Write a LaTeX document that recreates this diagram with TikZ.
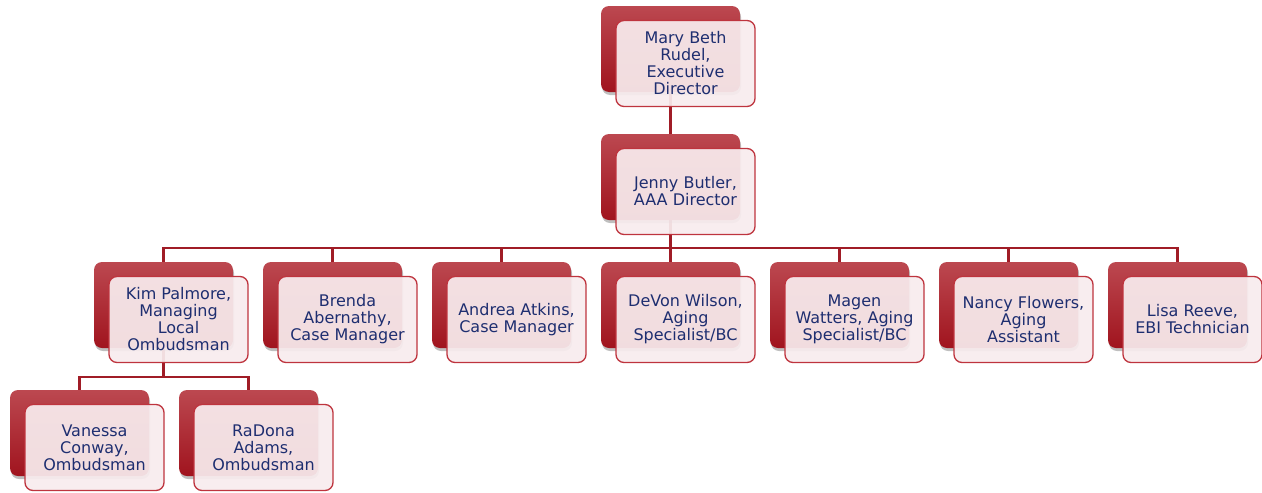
\documentclass[tikz,border=0pt]{standalone}
\usepackage{fontspec}
\newfontfamily\orgfont{DejaVu Sans}
\usetikzlibrary{shadows,backgrounds}

\definecolor{cardtop}{RGB}{188,72,80}
\definecolor{cardbot}{RGB}{160,20,30}
\definecolor{cardfill}{RGB}{248,236,238}
\definecolor{cardline}{RGB}{190,52,62}
\definecolor{cardtext}{RGB}{30,46,112}
\definecolor{linkred}{RGB}{160,28,38}

\begin{document}
\begin{tikzpicture}[x=1pt, y=-1pt,
  backcard/.style={rectangle, rounded corners=8pt, minimum width=139pt, minimum height=86pt,
    inner sep=0pt, top color=cardtop, bottom color=cardbot,
    drop shadow={shadow xshift=1pt, shadow yshift=-3pt, opacity=0.25, fill=black}},
  frontcard/.style={rectangle, rounded corners=8pt, minimum width=139pt, minimum height=86pt,
    inner sep=0pt, draw=cardline, line width=1.3pt, fill=cardfill, fill opacity=0.93,
    text opacity=1, text=cardtext, align=center,
    font=\orgfont\fontsize{16}{17}\selectfont},
  link/.style={draw=linkred, line width=2.6pt}]
\useasboundingbox (0,0) rectangle (1262,493);

\coordinate (bus) at (0,248);
\coordinate (bus2) at (0,377);

% top
\node[backcard] (mary) at (670.5,49) {};
\node[frontcard] (maryT) at (685.5,63.5) {Mary Beth\\Rudel,\\Executive\\Director};

\node[backcard] (jenny) at (670.5,177) {};
\node[frontcard] (jennyT) at (685.5,191.5) {Jenny Butler,\\AAA Director};

% staff row
\node[backcard] (kim) at (163.5,305) {};
\node[frontcard] (kimT) at (178.5,319.5) {Kim Palmore,\\Managing\\Local\\Ombudsman};

\node[backcard] (brenda) at (332.5,305) {};
\node[frontcard] (brendaT) at (347.5,319.5) {Brenda\\Abernathy,\\Case Manager};

\node[backcard] (andrea) at (501.5,305) {};
\node[frontcard] (andreaT) at (516.5,319.5) {Andrea Atkins,\\Case Manager};

\node[backcard] (devon) at (670.5,305) {};
\node[frontcard] (devonT) at (685.5,319.5) {DeVon Wilson,\\Aging\\Specialist/BC};

\node[backcard] (magen) at (839.5,305) {};
\node[frontcard] (magenT) at (854.5,319.5) {Magen\\Watters, Aging\\Specialist/BC};

\node[backcard] (nancy) at (1008.5,305) {};
\node[frontcard] (nancyT) at (1023.5,319.5) {Nancy Flowers,\\Aging\\Assistant};

\node[backcard] (lisa) at (1177.5,305) {};
\node[frontcard] (lisaT) at (1192.5,319.5) {Lisa Reeve,\\EBI Technician};

% ombudsmen
\node[backcard] (vanessa) at (79.5,433) {};
\node[frontcard] (vanessaT) at (94.5,447.5) {Vanessa\\Conway,\\Ombudsman};

\node[backcard] (radona) at (248.5,433) {};
\node[frontcard] (radonaT) at (263.5,447.5) {RaDona\\Adams,\\Ombudsman};

\begin{scope}[on background layer]
\draw[link] (mary) -- (jenny);
\foreach \n in {kim,brenda,andrea,devon,magen,nancy,lisa}
  \draw[link] (jenny.center) |- (bus -| \n) -- (\n.center);
\foreach \n in {vanessa,radona}
  \draw[link] (kim.center) |- (bus2 -| \n) -- (\n.center);
\end{scope}

\end{tikzpicture}
\end{document}
